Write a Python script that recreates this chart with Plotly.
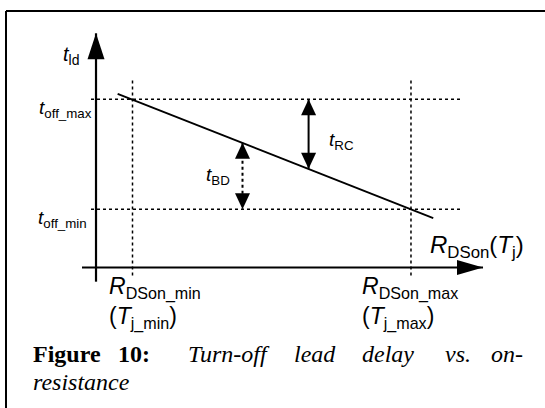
import plotly.graph_objects as go

W, H = 545, 408

# ---- data (abstract diagram units) ----
r_marks = [1.0, 4.0]            # R_DSon_min, R_DSon_max
t_marks = [1.0, 2.0]            # t_off_min, t_off_max
line_r = [0.84, 4.24]           # t_ld vs R_DSon characteristic
line_t = [2.05, 0.92]
origin = [0.607, 0.471]         # where the two axes cross
x_axis_r = [0.456, 4.776]
y_axis_t = [0.342, 2.60]
vline_t = [0.398, 2.191]        # extent of dotted verticals
hline_r = [0.553, 4.56]         # extent of dotted horizontals
rc_r = [2.897, 2.897]
rc_t = [2.0, 1.368]
bd_r = [2.185, 2.185]
bd_t = [1.605, 1.0]

# axis ranges chosen so that the diagram fills the page
XR = [-0.4273, 5.4437]
YR = [-0.8064, 2.9027]

BLACK = "#000000"
fig = go.Figure()

def line(xs, ys, width=2, dash="solid"):
    fig.add_trace(go.Scatter(x=xs, y=ys, mode="lines",
                             line=dict(color=BLACK, width=width, dash=dash),
                             hoverinfo="skip"))

# axes
line(x_axis_r, [origin[1], origin[1]], 2.2)
line([origin[0], origin[0]], y_axis_t, 2.2)
# dotted guides
for r in r_marks:
    line([r, r], vline_t, 1.5, "dot")
for t in t_marks:
    line(hline_r, [t, t], 1.5, "dot")
# characteristic
line(line_r, line_t, 1.8)
# t_RC and t_BD arrows
line(rc_r, rc_t, 2)
line(bd_r, bd_t, 2, "dot")

shapes = []
def head(x, y, d, w, h):
    if d == "up":
        p = f"M0,0 L{-w/2},{-h} L{w/2},{-h} Z"
    elif d == "down":
        p = f"M0,0 L{-w/2},{h} L{w/2},{h} Z"
    else:
        p = f"M0,0 L{-h},{w/2} L{-h},{-w/2} Z"
    shapes.append(dict(type="path", xref="x", yref="y", xsizemode="pixel",
                       ysizemode="pixel", xanchor=x, yanchor=y, path=p,
                       fillcolor=BLACK, line=dict(width=0)))

head(origin[0], y_axis_t[1], "up", 17, 26)
head(x_axis_r[1], origin[1], "right", 15, 26)
head(rc_r[0], rc_t[0], "up", 15, 16)
head(rc_r[1], rc_t[1], "down", 15, 16)
head(bd_r[0], bd_t[0], "up", 15, 16)
head(bd_r[1], bd_t[1], "down", 15, 16)

# frame
shapes.append(dict(type="line", xref="paper", yref="paper", x0=6/W, x1=6/W,
                   y0=-0.05, y1=1-11/H, line=dict(color=BLACK, width=2)))
shapes.append(dict(type="line", xref="paper", yref="paper", x0=6/W, x1=1.05,
                   y0=1-11/H, y1=1-11/H, line=dict(color=BLACK, width=2)))

SANS = "Liberation Sans, Arial, sans-serif"
SERIF = "Liberation Serif, Times New Roman, serif"
ann = []
def label(text, px, py, size, font=SANS, xanchor="left"):
    ann.append(dict(text=text, x=px/W, y=1-py/H, xref="paper", yref="paper",
                    xanchor=xanchor, yanchor="middle", showarrow=False,
                    align="left",
                    font=dict(family=font, size=size, color=BLACK)))

label("<i>t</i><sub>ld</sub>", 61, 56, 20)
label("<i>t</i><sub>off_max</sub>", 37, 109, 19)
label("<i>t</i><sub>off_min</sub>", 36, 219, 19)
label("<i>t</i><sub>RC</sub>", 327, 141, 19)
label("<i>t</i><sub>BD</sub>", 204, 176, 19)
label("<i>R</i><sub>DSon</sub>(<i>T</i><sub>j</sub>)", 428, 247, 24)
label("<i>R</i><sub>DSon_min</sub><br>(<i>T</i><sub>j_min</sub>)", 107, 303, 23)
label("<i>R</i><sub>DSon_max</sub><br>(<i>T</i><sub>j_max</sub>)", 360, 303, 23)

# caption (justified first line)
cap_words = ["<b>Figure</b>", "<b>10:</b>", "<i>Turn-off</i>", "<i>lead</i>",
             "<i>delay</i>", "<i>vs.</i>", "<i>on-</i>"]
cap_x = [31, 116, 186, 292, 360, 443, 525]
for i, (w, x) in enumerate(zip(cap_words, cap_x)):
    label(w, x, 354, 24, SERIF, "right" if i == len(cap_words) - 1 else "left")
label("<i>resistance</i>", 31, 382, 24, SERIF)

fig.update_layout(width=W, height=H, margin=dict(l=0, r=0, t=0, b=0),
                  paper_bgcolor="white", plot_bgcolor="white", showlegend=False,
                  xaxis=dict(range=XR, visible=False, fixedrange=True),
                  yaxis=dict(range=YR, visible=False, fixedrange=True),
                  shapes=shapes, annotations=ann)
fig.write_html("out.html")
